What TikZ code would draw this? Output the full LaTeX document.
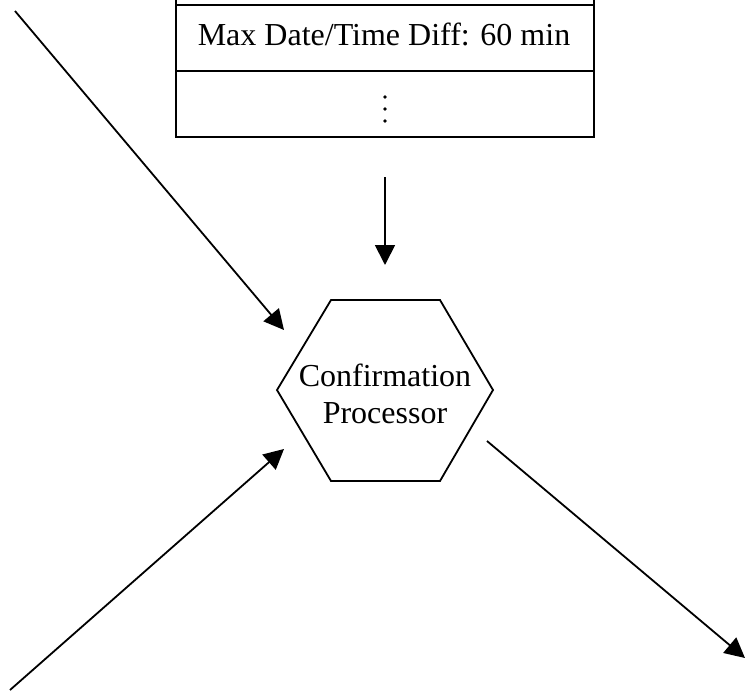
\documentclass[tikz,border=0pt]{standalone}
\usepackage{fontspec}
\setmainfont{Liberation Serif}
\usetikzlibrary{arrows.meta}
\begin{document}
\begin{tikzpicture}[x=1pt,y=1pt,
  conn/.style={line width=1.8pt,-{Triangle[length=20pt,width=20pt]}},
  boxline/.style={line width=2pt},
  label/.style={font=\fontsize{32}{37}\selectfont,inner sep=0pt,align=center}]
\useasboundingbox (0,0) rectangle (745,-691);
% table box
\draw[boxline] (176,0) -- (176,-137) -- (594,-137) -- (594,0);
\draw[boxline] (176,-5) -- (594,-5);
\draw[boxline] (176,-71) -- (594,-71);
\node[label,anchor=base] (maxdiff) at (384,-45) {Max Date/Time Diff: 60 min};
\node[inner sep=0pt] (dots) at (385,-109) {%
  \tikz[x=1pt,y=1pt]{\fill (0,12) circle (1.9); \fill (0,0) circle (1.9); \fill (0,-12) circle (1.9);}};
% hexagon
\draw[line width=1.8pt] (331,-300) -- (440,-300) -- (493,-390) -- (440,-481) -- (331,-481) -- (277,-390) -- cycle;
\node[label] (proc) at (385,-394) {Confirmation\\Processor};
% connector ends
\coordinate (tl) at (15,-11);
\coordinate (tlend) at (284,-330);
\coordinate (vs) at (385,-177);
\coordinate (ve) at (385,-265);
\coordinate (bl) at (10,-690);
\coordinate (blend) at (284,-449);
\coordinate (brs) at (487,-441);
\coordinate (br) at (745,-658);
\draw[conn] (tl) -- (tlend);
\draw[conn] (vs) -- (ve);
\draw[conn] (bl) -- (blend);
\draw[conn] (brs) -- (br);
\end{tikzpicture}
\end{document}
